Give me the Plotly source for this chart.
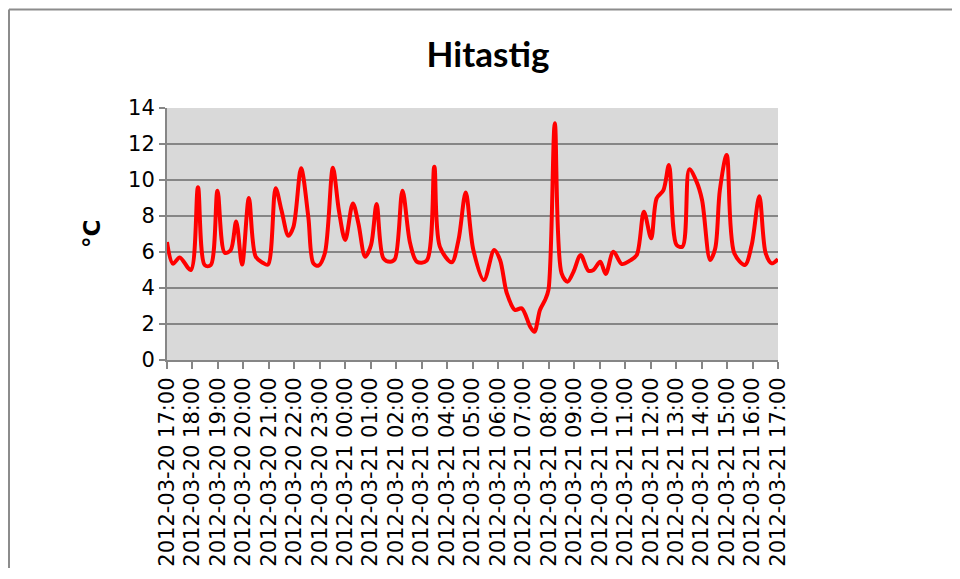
import pandas as pd
import plotly.graph_objects as go

# minutes after 2012-03-20 17:00 and temperature (°C)
minutes = [0, 14, 30, 56, 73, 89, 103, 119, 136, 150, 163, 177, 193, 209, 226, 238,
           256, 270, 286, 298, 316, 333, 345, 357, 372, 391, 405, 420, 438, 451, 467,
           481, 494, 510, 526, 537, 555, 573, 589, 612, 630, 643, 671, 687, 704, 722,
           747, 771, 785, 801, 820, 836, 856, 866, 879, 891, 899, 914, 930, 944, 958,
           975, 993, 1005, 1021, 1034, 1052, 1072, 1091, 1107, 1124, 1141, 1154, 1170,
           1183, 1201, 1215, 1231, 1248, 1261, 1280, 1292, 1303, 1319, 1337, 1362, 1378,
           1396, 1411, 1425, 1440]
temps = [6.55, 5.35, 5.7, 5.0, 9.6, 5.27, 5.27, 9.4, 5.96, 6.1, 7.7, 5.3, 9.0, 5.74, 5.4, 5.3,
         9.54, 8.3, 6.9, 7.4, 10.65, 7.96, 5.37, 5.24, 5.93, 10.68, 8.33, 6.67, 8.7, 7.6, 5.74,
         6.4, 8.67, 5.65, 5.46, 5.6, 9.4, 6.48, 5.46, 5.52, 10.74, 6.3, 5.43, 6.67, 9.3, 6.11,
         4.44, 6.11, 5.56, 3.7, 2.78, 2.87, 1.85, 1.57, 2.78, 3.33, 3.89, 13.15, 4.81, 4.35, 4.9,
         5.83, 4.96, 5.0, 5.46, 4.78, 6.02, 5.33, 5.52, 5.83, 8.24, 6.76, 8.98, 9.44,
         10.83, 6.39, 6.3, 10.59, 9.91, 8.89, 5.56, 6.2, 9.44, 11.39, 5.93, 5.28, 6.39,
         9.1, 5.93, 5.37, 5.6]

tick_labels = ["2012-03-20 17:00", "2012-03-20 18:00", "2012-03-20 19:00", "2012-03-20 20:00",
               "2012-03-20 21:00", "2012-03-20 22:00", "2012-03-20 23:00", "2012-03-21 00:00",
               "2012-03-21 01:00", "2012-03-21 02:00", "2012-03-21 03:00", "2012-03-21 04:00",
               "2012-03-21 05:00", "2012-03-21 06:00", "2012-03-21 07:00", "2012-03-21 08:00",
               "2012-03-21 09:00", "2012-03-21 10:00", "2012-03-21 11:00", "2012-03-21 12:00",
               "2012-03-21 13:00", "2012-03-21 14:00", "2012-03-21 15:00", "2012-03-21 16:00",
               "2012-03-21 17:00"]
y_ticks = [0, 2, 4, 6, 8, 10, 12, 14]

start = pd.Timestamp("2012-03-20 17:00")
times = [start + pd.Timedelta(minutes=m) for m in minutes]
tick_vals = [pd.Timestamp(t) for t in tick_labels]

W, H = 944, 560          # page adds an 8px body margin; keep it free of scrollbars
L, T, PW, PH = 159, 100, 611, 252

fig = go.Figure()
fig.add_trace(go.Scatter(x=times, y=temps, mode="lines",
                         line=dict(color="#ff0000", width=4, shape="spline", smoothing=0.9),
                         showlegend=False))

grid = "#868686"
border = dict(color="#8c8c8c", width=2)
fig.update_layout(
    width=W, height=H,
    margin=dict(l=L, r=W - L - PW, t=T, b=H - T - PH),
    paper_bgcolor="white", plot_bgcolor="#d9d9d9",
    title=dict(text="<b>Hitastig</b>", x=480 / W, xanchor="center", y=1 - 47 / H, yanchor="middle",
               font=dict(family="Lato", size=35, color="black")),
    xaxis=dict(range=[tick_vals[0], tick_vals[-1]], tickmode="array", tickvals=tick_vals,
               ticktext=tick_labels, tickangle=-90, showgrid=False, zeroline=False,
               showline=True, linecolor=grid, linewidth=2, ticks="outside", ticklen=7,
               tickcolor=grid, tickwidth=2, automargin=False,
               tickfont=dict(family="DejaVu Sans", size=21, color="black")),
    yaxis=dict(range=[0, 14], tickvals=y_ticks, showgrid=True, gridcolor=grid, gridwidth=2,
               zeroline=False, showline=True, linecolor=grid, linewidth=2, ticks="outside",
               ticklen=6, tickcolor=grid, tickwidth=2, automargin=False,
               tickfont=dict(family="DejaVu Sans", size=21, color="black")),
    annotations=[dict(text="<b>°C</b>", xref="paper", yref="paper",
                      x=(84 - L) / PW, y=0.5, xanchor="center", yanchor="middle",
                      textangle=-90, showarrow=False,
                      font=dict(family="DejaVu Sans", size=23, color="black"))],
    shapes=[
        dict(type="line", xref="paper", yref="paper",
             x0=(1 - L) / PW, x1=(W + 20 - L) / PW,
             y0=(PH + T - 1.5) / PH, y1=(PH + T - 1.5) / PH, line=border, layer="below"),
        dict(type="line", xref="paper", yref="paper",
             x0=(1 - L) / PW, x1=(1 - L) / PW,
             y0=(PH + T - 1.5) / PH, y1=(PH + T - H - 20) / PH, line=border, layer="below"),
    ],
)

fig.write_html("out.html")
